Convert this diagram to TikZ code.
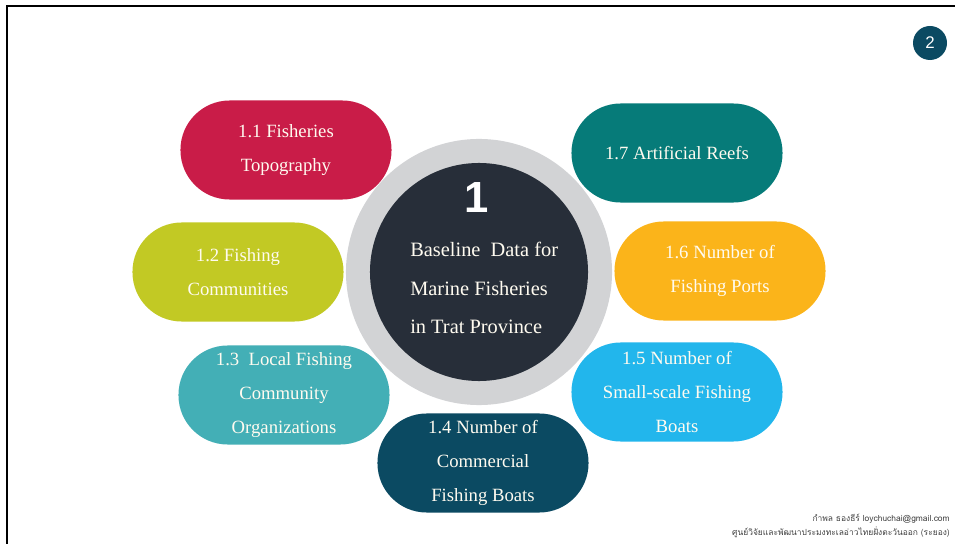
\documentclass[tikz,border=0pt]{standalone}
\usepackage{fontspec}
\setmainfont{Liberation Serif}
\newfontfamily\numfont{Liberation Sans}
\newfontfamily\thaifont[Script=Thai]{Loma}
\usetikzlibrary{positioning}

\definecolor{crimson}{HTML}{C91C48}
\definecolor{lime}{HTML}{C2C924}
\definecolor{aqua}{HTML}{43AFB6}
\definecolor{navy}{HTML}{0B4A62}
\definecolor{sky}{HTML}{22B6EC}
\definecolor{amber}{HTML}{FBB41A}
\definecolor{seagreen}{HTML}{067B79}
\definecolor{hubdark}{HTML}{272E39}
\definecolor{ringgrey}{HTML}{D2D3D5}
\definecolor{cream}{HTML}{FFFBF0}

\begin{document}
\begin{tikzpicture}[x=0.025cm, y=-0.025cm,
        pill/.style={minimum width=5.275cm, minimum height=2.475cm,
            rounded corners=1.23cm, align=center, text=cream,
            font=\fontsize{13.3}{24}\selectfont}]
        \useasboundingbox (0,0) rectangle (955,544);
        \draw[line width=1pt] (955,6) -- (7,6) -- (7,544);

        % centre
        \node[circle, fill=ringgrey, minimum size=6.65cm] (r_0) at (479,272) {};
        \node[circle, fill=hubdark, minimum size=5.45cm] (h_0) at (r_0) {};
        \node[text=white, font=\numfont\bfseries\fontsize{31}{31}\selectfont] (n_0) at (477,198) {1};
        \node[text=cream, align=left, anchor=west, inner sep=0pt,
            font=\fontsize{14.5}{27.6}\selectfont] (t_0) at (410,288)
            {Baseline\ \ Data for\\Marine Fisheries\\in Trat Province};

        % topics
        \node[pill, fill=crimson] (p_1) at (286,150) {1.1 Fisheries\\Topography};
        \node[pill, fill=lime] (p_2) at (238,272) {1.2 Fishing\\Communities};
        \node[pill, fill=aqua] (p_3) at (284,395) {1.3\ \ Local Fishing\\Community\\Organizations};
        \node[pill, fill=navy] (p_4) at (483,463) {1.4 Number of\\Commercial\\Fishing Boats};
        \node[pill, fill=sky] (p_5) at (677,392) {1.5 Number of\\Small-scale Fishing\\Boats};
        \node[pill, fill=amber] (p_6) at (720,271) {1.6 Number of\\Fishing Ports};
        \node[pill, fill=seagreen] (p_7) at (677,153) {1.7 Artificial Reefs};

        % page number and footer
        \node[circle, fill=navy, minimum size=0.85cm, text=white,
            font=\numfont\fontsize{12}{12}\selectfont] (pg) at (930,43) {2};
        \node[anchor=south east, align=right, inner sep=0pt, text=black!75,
            font=\thaifont\fontsize{6}{10}\selectfont] (ft) at (950,538)
            {กำพล ธองธีร์ loychuchai@gmail.com\\ศูนย์วิจัยและพัฒนาประมงทะเลอ่าวไทยฝั่งตะวันออก (ระยอง)};
\end{tikzpicture}
\end{document}
